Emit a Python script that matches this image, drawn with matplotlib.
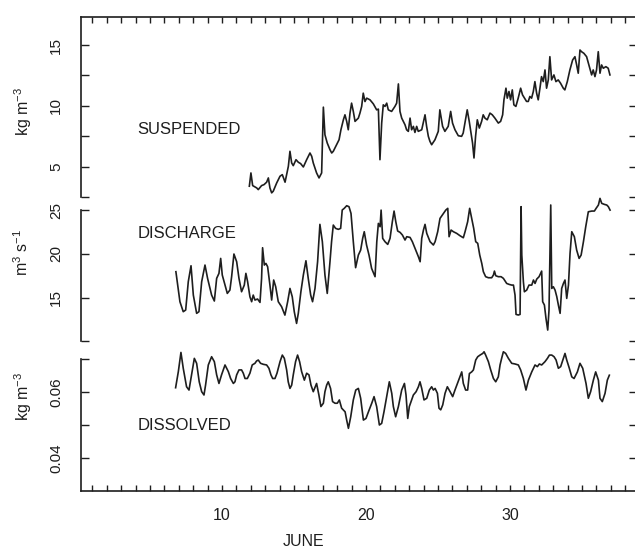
import matplotlib
matplotlib.use("Agg")
import matplotlib.pyplot as plt
from matplotlib.ticker import MultipleLocator

# fonts
plt.rcParams['font.family'] = ['Liberation Sans', 'DejaVu Sans']
plt.rcParams['mathtext.default'] = 'regular'

INK = '#1e1e1e'

# suspended sediment (kg m-3), day of June
susp_day = [11.90, 12.01, 12.13, 12.41, 12.52, 12.75, 12.92, 13.10, 13.22, 13.33,
            13.45, 13.56, 13.80, 14.03, 14.19, 14.38, 14.61, 14.72, 14.84, 14.95,
            15.14, 15.30, 15.46, 15.65, 15.88, 16.11, 16.23, 16.34, 16.57, 16.74,
            16.92, 17.04, 17.15, 17.31, 17.50, 17.62, 17.73, 17.96, 18.13, 18.26,
            18.43, 18.54, 18.66, 18.77, 18.89, 19.00, 19.12, 19.24, 19.47, 19.58,
            19.70, 19.81, 19.93, 20.05, 20.28, 20.51, 20.74, 20.86, 20.97, 21.09,
            21.20, 21.32, 21.44, 21.55, 21.78, 22.01, 22.13, 22.25, 22.36, 22.48,
            22.71, 22.82, 22.94, 23.06, 23.17, 23.29, 23.40, 23.52, 23.63, 23.87,
            24.10, 24.21, 24.33, 24.44, 24.56, 24.79, 25.02, 25.13, 25.32, 25.48,
            25.71, 25.88, 26.01, 26.18, 26.41, 26.64, 26.75, 26.87, 27.03, 27.17,
            27.29, 27.40, 27.50, 27.61, 27.73, 27.87, 28.03, 28.14, 28.26, 28.42,
            28.61, 28.77, 28.95, 29.19, 29.35, 29.49, 29.58, 29.72, 29.81, 29.93,
            30.04, 30.16, 30.27, 30.41, 30.57, 30.74, 30.87, 31.01, 31.15, 31.27,
            31.38, 31.50, 31.62, 31.73, 31.85, 31.96, 32.08, 32.19, 32.31, 32.43,
            32.54, 32.66, 32.77, 32.89, 33.05, 33.19, 33.35, 33.51, 33.70, 33.81,
            33.98, 34.16, 34.35, 34.51, 34.63, 34.74, 34.86, 34.97, 35.13, 35.32,
            35.51, 35.67, 35.78, 35.90, 36.01, 36.13, 36.25, 36.36, 36.48, 36.66,
            36.82, 36.94]
susp_val = [3.39, 4.48, 3.44, 3.25, 3.11, 3.44, 3.52, 3.72, 4.07, 3.25,
            2.84, 2.98, 3.66, 4.21, 4.34, 3.72, 5.03, 6.26, 5.30, 5.08,
            5.57, 5.36, 5.25, 4.97, 5.57, 6.12, 5.85, 5.30, 4.48, 4.07,
            4.48, 9.89, 7.62, 6.94, 6.39, 6.12, 6.26, 6.80, 7.21, 8.03,
            8.85, 9.26, 8.72, 8.03, 9.40, 10.22, 9.54, 8.72, 8.99, 9.40,
            9.95, 11.04, 10.35, 10.63, 10.49, 10.16, 9.67, 9.73, 5.57, 8.58,
            10.08, 9.95, 10.22, 9.67, 9.54, 9.95, 10.22, 11.80, 9.54, 8.99,
            8.44, 8.03, 7.90, 8.99, 8.03, 8.31, 7.81, 8.31, 7.90, 8.03,
            9.26, 8.31, 7.49, 7.08, 6.80, 7.21, 7.90, 9.67, 8.31, 7.90,
            8.31, 9.54, 8.58, 8.03, 7.54, 7.49, 7.76, 8.58, 9.67, 8.72,
            7.76, 6.94, 5.71, 7.49, 8.85, 8.17, 8.72, 9.26, 8.99, 8.85,
            9.40, 9.26, 8.99, 8.58, 8.72, 9.26, 10.49, 11.45, 10.63, 11.18,
            10.49, 11.31, 10.08, 9.95, 10.63, 11.45, 10.90, 10.63, 10.36, 10.36,
            10.77, 10.63, 11.18, 11.99, 11.04, 10.49, 11.45, 12.40, 11.99, 12.95,
            11.45, 12.13, 14.04, 12.13, 12.54, 11.99, 12.13, 11.86, 11.45, 11.31,
            11.99, 12.95, 13.77, 14.04, 13.36, 12.68, 14.59, 14.45, 14.32, 14.04,
            13.22, 12.54, 12.95, 12.40, 12.95, 14.45, 12.68, 13.36, 13.09, 13.22,
            13.09, 12.54]

# discharge (m3 s-1)
dis_day = [6.80, 7.08, 7.31, 7.48, 7.66, 7.85, 8.01, 8.24, 8.40, 8.59,
           8.82, 9.00, 9.28, 9.47, 9.63, 9.79, 9.91, 10.02, 10.21, 10.37,
           10.55, 10.67, 10.83, 11.02, 11.18, 11.36, 11.55, 11.66, 11.78, 11.94,
           12.06, 12.17, 12.29, 12.47, 12.64, 12.75, 12.82, 12.94, 13.05, 13.17,
           13.33, 13.45, 13.59, 13.73, 13.91, 14.14, 14.37, 14.56, 14.72, 14.88,
           15.02, 15.18, 15.30, 15.48, 15.65, 15.83, 15.99, 16.16, 16.29, 16.46,
           16.64, 16.80, 16.97, 17.15, 17.31, 17.50, 17.61, 17.73, 17.89, 18.08,
           18.24, 18.35, 18.49, 18.66, 18.82, 18.96, 19.12, 19.28, 19.47, 19.63,
           19.77, 19.88, 20.04, 20.21, 20.39, 20.63, 20.75, 20.86, 20.98, 21.05,
           21.16, 21.32, 21.51, 21.67, 21.83, 21.95, 22.07, 22.20, 22.37, 22.53,
           22.71, 22.83, 23.06, 23.22, 23.41, 23.64, 23.76, 23.87, 23.99, 24.10,
           24.22, 24.45, 24.68, 24.80, 24.98, 25.14, 25.38, 25.54, 25.68, 25.77,
           25.91, 26.07, 26.30, 26.53, 26.76, 26.88, 27.06, 27.20, 27.34, 27.48,
           27.62, 27.76, 27.90, 28.04, 28.15, 28.31, 28.50, 28.73, 28.85, 28.92,
           29.01, 29.19, 29.38, 29.54, 29.77, 29.94, 30.12, 30.24, 30.35, 30.42,
           30.58, 30.70, 30.77, 30.82, 30.93, 31.00, 31.16, 31.32, 31.51, 31.63,
           31.74, 31.86, 32.02, 32.20, 32.27, 32.39, 32.50, 32.62, 32.71, 32.83,
           32.90, 33.01, 33.13, 33.25, 33.36, 33.48, 33.59, 33.71, 33.82, 33.94,
           34.06, 34.17, 34.29, 34.47, 34.63, 34.80, 34.94, 35.10, 35.26, 35.44,
           35.68, 35.86, 35.98, 36.14, 36.25, 36.37, 36.56, 36.72, 36.83, 36.95]
dis_val = [17.95, 14.52, 13.38, 13.57, 16.81, 18.63, 15.28, 13.19, 13.38, 16.81,
           18.71, 17.19, 15.28, 14.60, 17.19, 17.76, 19.47, 17.57, 16.42, 15.47,
           15.85, 17.38, 19.97, 19.09, 17.19, 15.66, 16.42, 17.76, 16.81, 15.09,
           14.52, 15.28, 14.71, 14.83, 14.44, 17.19, 20.69, 18.71, 18.90, 18.52,
           16.42, 14.71, 17.00, 16.23, 14.52, 13.95, 12.99, 14.52, 16.04, 15.09,
           13.38, 12.04, 13.19, 15.66, 17.57, 19.20, 17.19, 15.28, 14.52, 16.04,
           19.09, 23.36, 21.38, 17.57, 15.47, 19.09, 21.38, 23.28, 22.90, 22.79,
           22.90, 25.00, 25.19, 25.49, 25.38, 24.61, 21.38, 18.41, 19.85, 20.42,
           21.76, 22.52, 21.00, 19.85, 18.33, 17.38, 21.38, 23.47, 23.09, 24.99,
           21.76, 21.38, 21.07, 21.76, 23.66, 24.88, 23.66, 22.60, 22.44, 22.14,
           21.57, 21.95, 21.87, 21.38, 20.61, 19.66, 19.09, 21.76, 22.71, 23.36,
           22.33, 21.38, 21.00, 21.38, 22.52, 24.04, 24.61, 24.99, 25.19, 21.95,
           22.71, 22.52, 22.33, 22.06, 21.83, 22.52, 23.66, 25.19, 24.04, 22.90,
           21.38, 21.19, 19.85, 18.90, 17.95, 17.38, 17.26, 17.26, 17.57, 18.02,
           17.49, 17.38, 17.38, 17.19, 16.61, 16.50, 16.42, 16.42, 15.28, 13.07,
           13.00, 13.07, 25.38, 19.85, 16.81, 15.66, 15.85, 16.42, 16.42, 17.00,
           16.61, 17.11, 17.38, 18.02, 14.52, 14.14, 12.61, 11.28, 13.57, 25.57,
           16.04, 16.23, 15.85, 15.09, 14.14, 13.19, 16.04, 16.61, 17.00, 14.90,
           16.42, 20.04, 22.52, 21.95, 20.42, 19.47, 19.85, 21.38, 23.09, 24.80,
           24.88, 24.88, 25.19, 25.57, 26.33, 25.76, 25.64, 25.57, 25.38, 24.99]

# dissolved load (kg m-3)
diss_day = [6.78, 6.97, 7.15, 7.31, 7.54, 7.71, 7.89, 8.08, 8.24, 8.42,
            8.59, 8.75, 8.86, 9.05, 9.28, 9.47, 9.63, 9.79, 9.97, 10.21,
            10.44, 10.60, 10.79, 10.90, 11.02, 11.18, 11.36, 11.48, 11.60, 11.76,
            11.94, 12.10, 12.29, 12.40, 12.52, 12.68, 12.87, 13.10, 13.26, 13.40,
            13.52, 13.68, 13.82, 14.03, 14.19, 14.33, 14.49, 14.60, 14.72, 14.84,
            14.95, 15.11, 15.25, 15.39, 15.53, 15.72, 15.88, 16.04, 16.18, 16.34,
            16.57, 16.73, 16.87, 17.04, 17.15, 17.27, 17.38, 17.54, 17.68, 17.85,
            18.01, 18.15, 18.31, 18.55, 18.66, 18.78, 18.94, 19.12, 19.29, 19.47,
            19.63, 19.82, 20.00, 20.17, 20.40, 20.56, 20.74, 20.93, 21.09, 21.25,
            21.44, 21.62, 21.79, 21.90, 22.06, 22.25, 22.48, 22.67, 22.78, 22.90,
            23.01, 23.17, 23.29, 23.48, 23.64, 23.75, 23.87, 24.03, 24.22, 24.40,
            24.56, 24.68, 24.80, 24.96, 25.07, 25.19, 25.33, 25.49, 25.65, 25.84,
            26.02, 26.18, 26.35, 26.48, 26.65, 26.76, 26.92, 27.06, 27.18, 27.34,
            27.46, 27.62, 27.76, 27.92, 28.11, 28.20, 28.31, 28.50, 28.66, 28.85,
            29.01, 29.19, 29.31, 29.42, 29.54, 29.70, 29.89, 30.12, 30.35, 30.58,
            30.74, 30.93, 31.11, 31.28, 31.51, 31.74, 31.90, 32.04, 32.20, 32.43,
            32.60, 32.74, 32.90, 33.06, 33.20, 33.36, 33.52, 33.71, 33.82, 33.94,
            34.12, 34.29, 34.45, 34.68, 34.86, 35.05, 35.28, 35.44, 35.60, 35.79,
            35.95, 36.14, 36.25, 36.41, 36.60, 36.76, 36.90]
diss_val = [0.0613, 0.0662, 0.0720, 0.0672, 0.0616, 0.0606, 0.0652, 0.0702, 0.0687, 0.0631,
            0.0601, 0.0591, 0.0621, 0.0682, 0.0707, 0.0692, 0.0652, 0.0626, 0.0652, 0.0682,
            0.0662, 0.0641, 0.0626, 0.0631, 0.0652, 0.0667, 0.0667, 0.0657, 0.0641, 0.0641,
            0.0657, 0.0682, 0.0687, 0.0694, 0.0697, 0.0687, 0.0684, 0.0682, 0.0672, 0.0652,
            0.0641, 0.0641, 0.0657, 0.0692, 0.0712, 0.0702, 0.0667, 0.0631, 0.0611, 0.0621,
            0.0652, 0.0692, 0.0712, 0.0692, 0.0662, 0.0636, 0.0657, 0.0652, 0.0621, 0.0601,
            0.0626, 0.0591, 0.0556, 0.0566, 0.0601, 0.0621, 0.0631, 0.0611, 0.0571, 0.0566,
            0.0566, 0.0576, 0.0551, 0.0540, 0.0515, 0.0490, 0.0525, 0.0576, 0.0606, 0.0611,
            0.0581, 0.0515, 0.0520, 0.0540, 0.0566, 0.0586, 0.0556, 0.0500, 0.0505, 0.0540,
            0.0586, 0.0631, 0.0596, 0.0556, 0.0525, 0.0556, 0.0606, 0.0626, 0.0591, 0.0520,
            0.0556, 0.0576, 0.0591, 0.0601, 0.0616, 0.0631, 0.0611, 0.0576, 0.0581, 0.0606,
            0.0616, 0.0606, 0.0611, 0.0596, 0.0551, 0.0546, 0.0561, 0.0596, 0.0616, 0.0601,
            0.0586, 0.0606, 0.0626, 0.0641, 0.0661, 0.0626, 0.0606, 0.0606, 0.0656, 0.0661,
            0.0667, 0.0697, 0.0707, 0.0712, 0.0717, 0.0722, 0.0712, 0.0692, 0.0667, 0.0641,
            0.0631, 0.0646, 0.0682, 0.0702, 0.0722, 0.0717, 0.0702, 0.0687, 0.0685, 0.0682,
            0.0667, 0.0641, 0.0606, 0.0636, 0.0661, 0.0682, 0.0677, 0.0685, 0.0682, 0.0692,
            0.0702, 0.0712, 0.0712, 0.0707, 0.0697, 0.0672, 0.0677, 0.0702, 0.0717, 0.0697,
            0.0672, 0.0646, 0.0641, 0.0661, 0.0687, 0.0672, 0.0626, 0.0581, 0.0601, 0.0636,
            0.0661, 0.0636, 0.0581, 0.0571, 0.0596, 0.0636, 0.0651]

# x axis
x_lim = (0.21, 38.82)
x_ticks = [10, 20, 30]
x_labels = ['10', '20', '30']

fig = plt.figure(figsize=(6.35, 5.55), dpi=100)
L, W = 81 / 635, 556 / 635

# outer frame: top and bottom lines with day ticks
frame = fig.add_axes([L, 0.1153, W, 0.8541])
frame.set_xlim(*x_lim)
frame.set_yticks([])
frame.spines[['left', 'right']].set_visible(False)
for s in ['top', 'bottom']:
    frame.spines[s].set_linewidth(1.2)
    frame.spines[s].set_color(INK)
frame.set_xticks(x_ticks, x_labels)
frame.xaxis.set_minor_locator(MultipleLocator(1))
frame.tick_params(axis='x', which='both', direction='in', top=True, length=4,
                  width=1, color=INK, labelsize=11.5, pad=12, labelcolor=INK)


def panel(bottom, height, ylim, major, labels, minor, days, vals):
    ax = fig.add_axes([L, bottom, W, height], facecolor='none')
    ax.set_xlim(*x_lim)
    ax.set_ylim(*ylim)
    ax.set_xticks([])
    ax.spines[['top', 'bottom', 'right']].set_visible(False)
    ax.spines['left'].set_linewidth(1.2)
    ax.spines['left'].set_color(INK)
    ax.set_yticks(major, labels)
    ax.set_yticks(minor, minor=True)
    ax.tick_params(axis='y', which='both', direction='in', right=True, length=6,
                   width=1, color=INK, labelsize=11, pad=13, labelcolor=INK)
    for t in ax.get_yticklabels():
        t.set_rotation(90)
        t.set_va('center')
    ax.plot(days, vals, color=INK, lw=1.2, clip_on=False)
    return ax


ax1 = panel(0.6450, 0.3243, (2.5, 17.3), [5, 10, 15], ['5', '10', '15'],
            [2.5, 7.5, 12.5], susp_day, susp_val)
ax2 = panel(0.3851, 0.2365, (10, 25), [15, 20, 25], ['15', '20', '25'],
            [10], dis_day, dis_val)
ax3 = panel(0.1153, 0.2378, (0.03, 0.07), [0.04, 0.06], ['0.04', '0.06'],
            [0.05, 0.07], diss_day, diss_val)

# series names
ax1.text(4.15, 8.03, 'SUSPENDED', fontsize=12, va='center', color=INK)
ax2.text(4.15, 22.37, 'DISCHARGE', fontsize=12, va='center', color=INK)
ax3.text(4.15, 0.050, 'DISSOLVED', fontsize=12, va='center', color=INK)

# units
fig.text(0.037, 0.800, 'kg m$^{-3}$', rotation=90, ha='center', va='center',
         fontsize=11.5, color=INK)
fig.text(0.034, 0.546, 'm$^{3}$ s$^{-1}$', rotation=90, ha='center', va='center',
         fontsize=11.5, color=INK)
fig.text(0.037, 0.285, 'kg m$^{-3}$', rotation=90, ha='center', va='center',
         fontsize=11.5, color=INK)

fig.text(304 / 635, 1 - 542 / 555, 'JUNE', ha='center', va='center',
         fontsize=11.5, color=INK)

fig.savefig('out.png', dpi=100)
